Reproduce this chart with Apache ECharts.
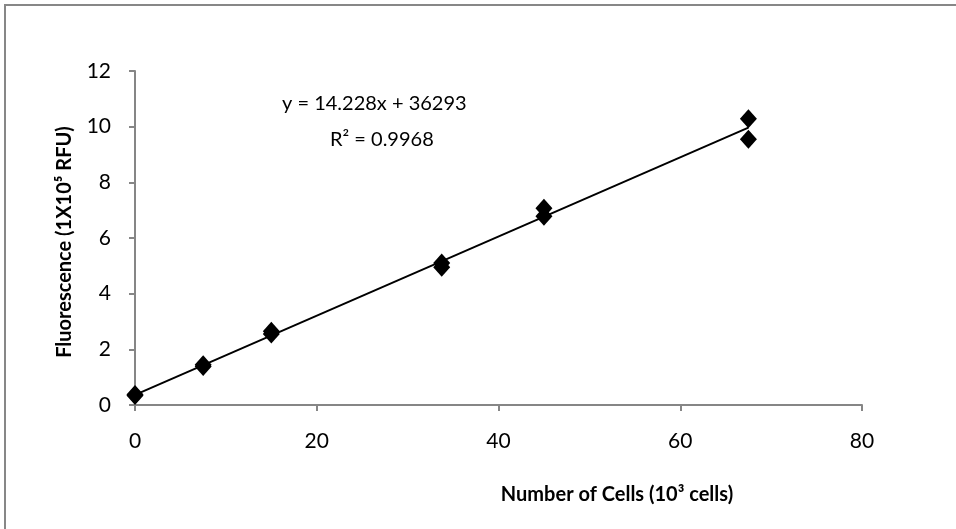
<!DOCTYPE html>
<html>
<head>
<meta charset="utf-8">
<script src="https://cdn.jsdelivr.net/npm/echarts@6/dist/echarts.min.js"></script>
<style>
  html, body { margin: 0; padding: 0; background: #fff; }
  #chart { width: 956px; height: 529px; }
</style>
</head>
<body>
<div id="chart"></div>
<script>
    // cells (10^3) and fluorescence (10^5 RFU)
    var cells = [0, 0, 7.5, 7.5, 15, 15, 33.75, 33.75, 45, 45, 67.5, 67.5];
    var fluor = [0.34, 0.38, 1.38, 1.45, 2.55, 2.65, 4.95, 5.1, 6.78, 7.07, 9.55, 10.28];
    var xTicks = [0, 20, 40, 60, 80];
    var yTicks = [0, 2, 4, 6, 8, 10, 12];

    // trendline as printed on the chart: y = 14.228x + 36293 (RFU vs cells)
    var slope = 14.228;
    var intercept = 36293;
    var eqText = 'y = 14.228x + 36293';
    var r2Text = 'R² = 0.9968';

    var points = cells.map(function (c, i) { return [c, fluor[i]]; });
    var xMin = Math.min.apply(null, cells), xMax = Math.max.apply(null, cells);
    function fit(x) { return (slope * x * 1e3 + intercept) / 1e5; }
    var trend = [[xMin, fit(xMin)], [xMax, fit(xMax)]];

    var font = 'Lato, "Open Sans", sans-serif';
    var axisGray = '#868686';

    var myChart = echarts.init(document.getElementById('chart'));
    var option = {
        animation: false,
        backgroundColor: '#fff',
        grid: { left: 135, right: 94, top: 71, bottom: 124 },
        xAxis: {
            type: 'value',
            min: xTicks[0], max: xTicks[xTicks.length - 1], interval: 20,
            axisLine: { show: true, lineStyle: { color: axisGray, width: 2 } },
            axisTick: { show: true, inside: false, length: 6, lineStyle: { color: axisGray, width: 2 } },
            axisLabel: { color: '#000', fontFamily: font, fontSize: 21, margin: 26 },
            splitLine: { show: false }
        },
        yAxis: {
            type: 'value',
            min: yTicks[0], max: yTicks[yTicks.length - 1], interval: 2,
            axisLine: { show: true, lineStyle: { color: axisGray, width: 2 } },
            axisTick: { show: true, inside: false, length: 6, lineStyle: { color: axisGray, width: 2 } },
            axisLabel: { color: '#000', fontFamily: font, fontSize: 21, margin: 24 },
            splitLine: { show: false }
        },
        graphic: [
            {
                type: 'rect', silent: true, z: -1,
                shape: { x: 5, y: 5, width: 1200, height: 800 },
                style: { fill: 'none', stroke: '#878787', lineWidth: 2 }
            },
            {
                type: 'text', left: 282, top: 94,
                style: { text: eqText, fill: '#000', font: '20px ' + font }
            },
            {
                type: 'text', left: 330, top: 130,
                style: { text: r2Text, fill: '#000', font: '20px ' + font }
            },
            {
                type: 'text', x: 617, y: 495,
                style: { text: 'Number of Cells (10³ cells)', fill: '#000', font: 'bold 20px ' + font,
                    align: 'center', verticalAlign: 'middle' }
            },
            {
                type: 'text', x: 65, y: 242, rotation: Math.PI / 2,
                style: { text: 'Fluorescence (1X10⁵ RFU)', fill: '#000', font: 'bold 20px ' + font,
                    align: 'center', verticalAlign: 'middle' }
            }
        ],
        series: [
            {
                type: 'line',
                data: trend,
                showSymbol: false,
                lineStyle: { color: '#000', width: 2 },
                z: 2
            },
            {
                type: 'scatter',
                data: points,
                symbol: 'diamond',
                symbolSize: [17, 19],
                itemStyle: { color: '#000', opacity: 1 },
                z: 3
            }
        ]
    };
    myChart.setOption(option);
</script>
</body>
</html>
